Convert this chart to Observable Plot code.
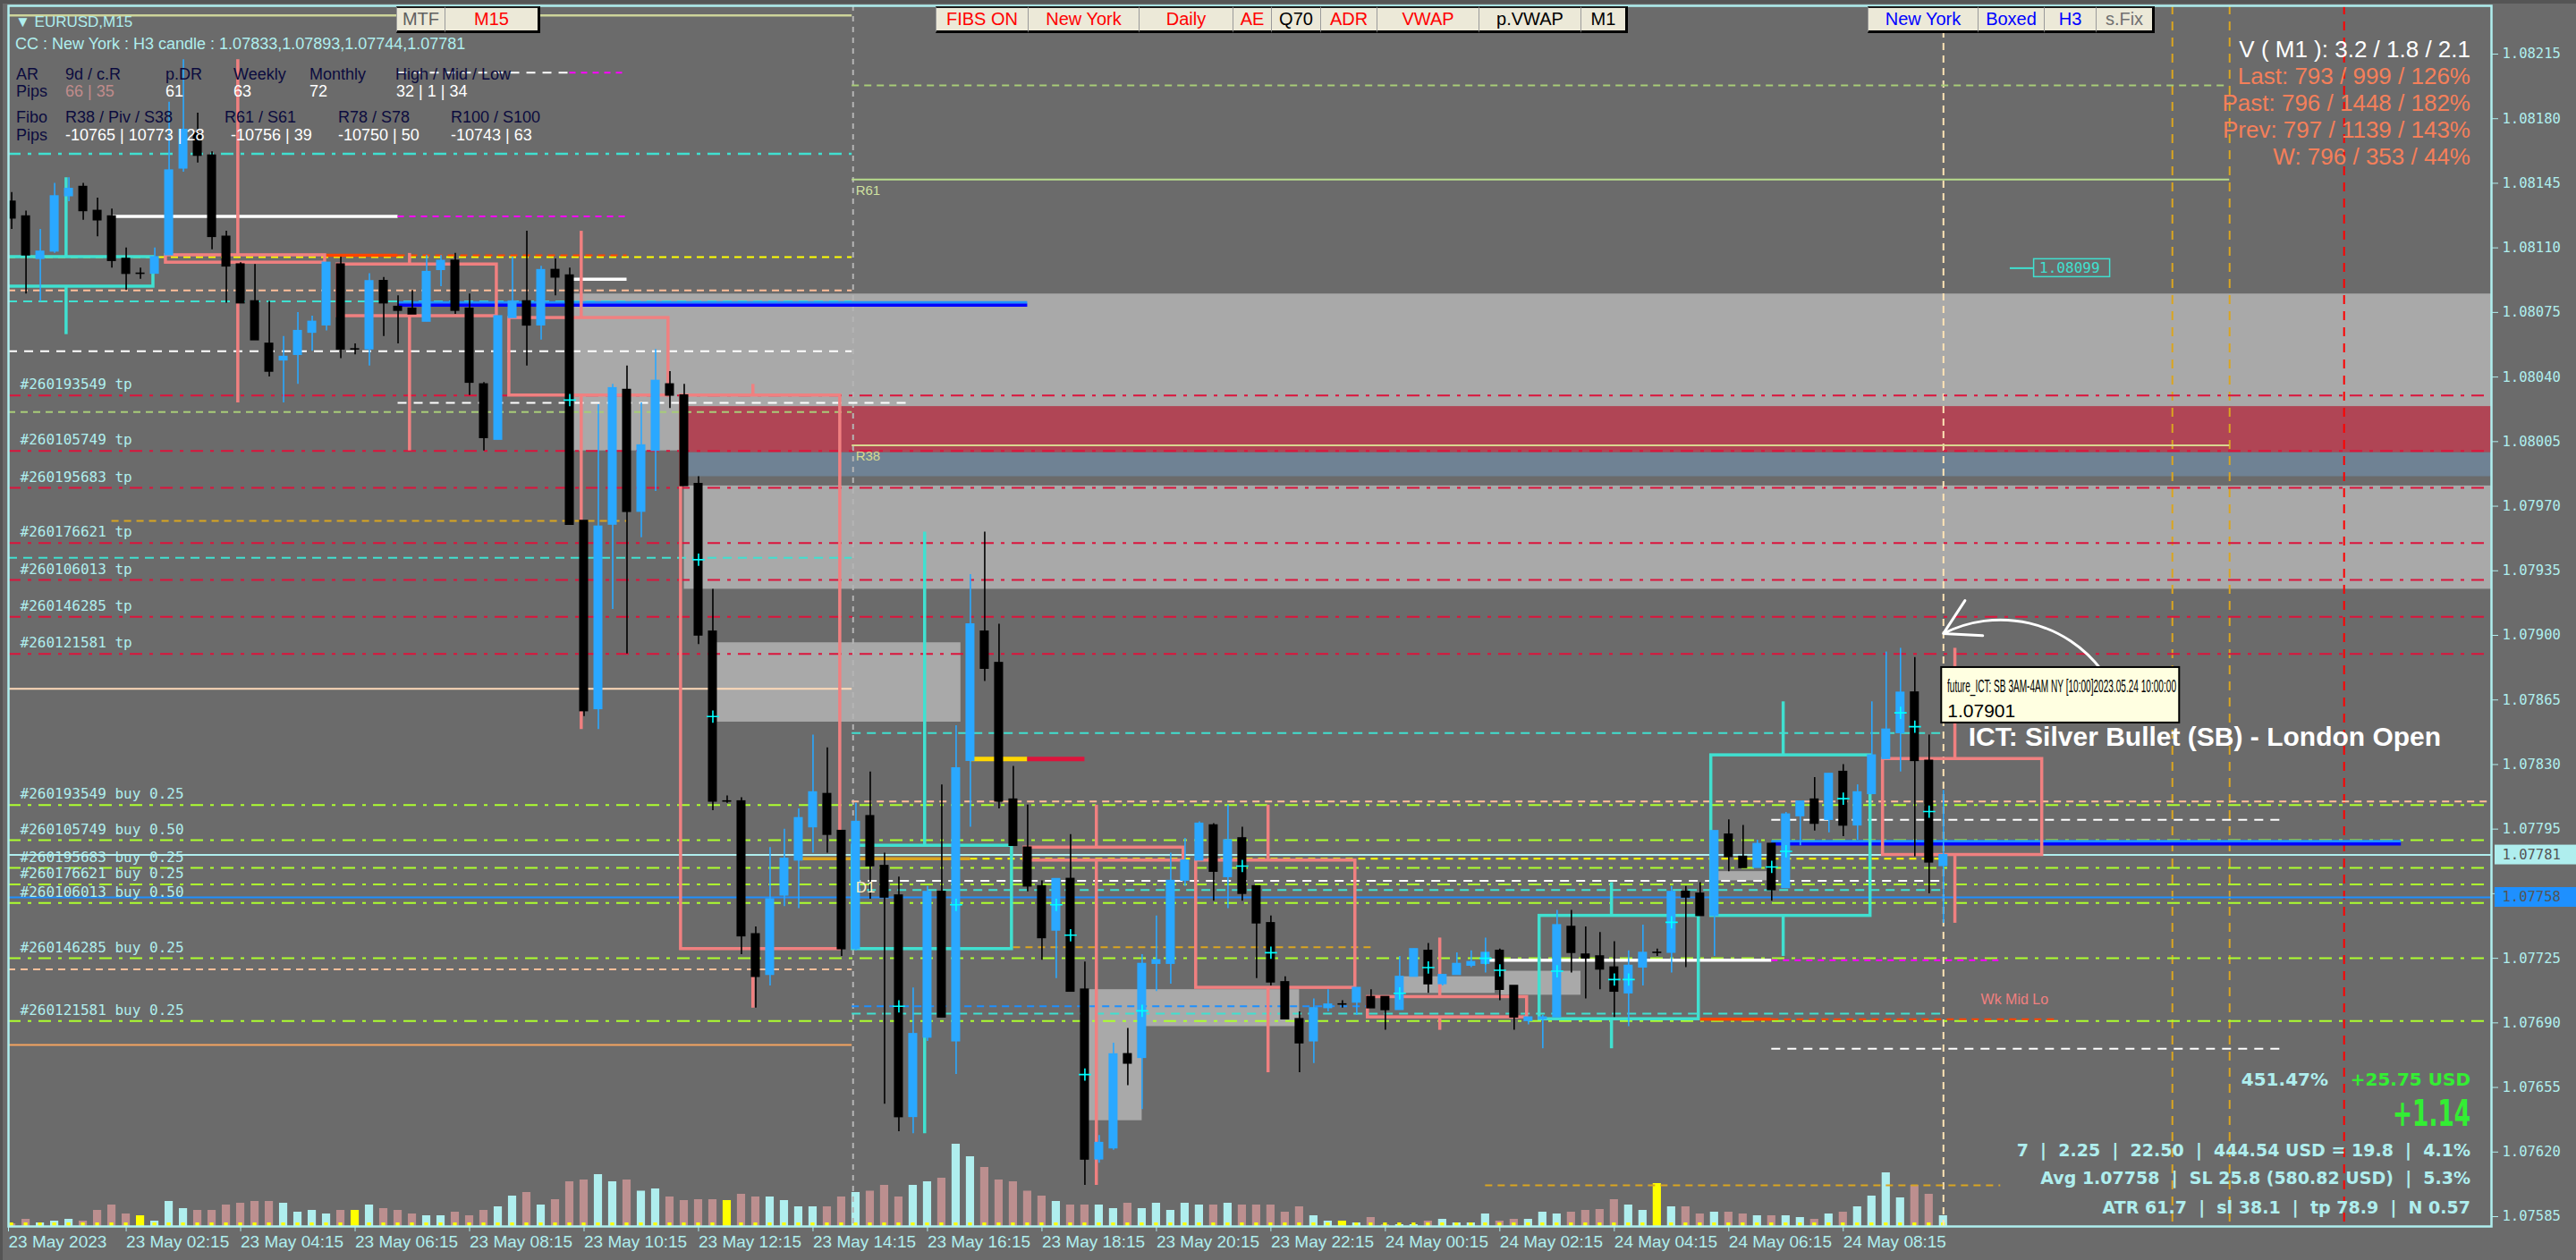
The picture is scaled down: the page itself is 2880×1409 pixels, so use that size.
<!DOCTYPE html>
<html><head><meta charset="utf-8">
<script src="https://cdn.jsdelivr.net/npm/d3@7"></script>
<script src="https://cdn.jsdelivr.net/npm/@observablehq/plot@0.6"></script>
<style>
html,body{margin:0;padding:0;background:#6b6b6b;overflow:hidden;width:2880px;height:1409px}
#wrap{position:relative;width:2880px;height:1409px}
#wrap svg{position:absolute;left:0;top:0}
.ov{position:absolute;white-space:pre;line-height:1}
.edge{position:absolute;background:#555555}
.btn{position:absolute;top:7px;height:30px;box-sizing:border-box;background:#ece9d8;border-left:1px solid #9a9a9a;border-top:2px solid #1a1a1a;border-bottom:3px solid #000;display:flex;align-items:center;justify-content:center;font:20px 'Liberation Sans',sans-serif}
</style></head>
<body><div id="wrap"><div class="edge" style="left:0;top:0;width:2880px;height:4px"></div><div class="edge" style="left:0;top:0;width:3px;height:1409px"></div></div>
<script>
// ---------------- DATA ----------------
const firstBar = "23 00:00";
const opens = [1.08089,1.08135,1.08127,1.08104,1.08108,1.08138,1.08143,1.08130,1.08127,1.08104,1.08096,
1.08096,1.08106,1.08153,1.08172,1.08160,1.08116,1.08101,1.08081,1.08058,1.08049,
1.08052,1.08064,1.08068,1.08101,1.08055,1.08055,1.08092,1.08078,1.08077,1.08070,
1.08098,1.08103,1.08077,1.08036,1.08006,1.08072,1.08081,1.08068,1.08098,1.08095,
1.07962,1.07860,1.07960,1.08033,1.07967,1.08000,1.08036,1.08030,1.07982,1.07902,
1.07810,1.07810,1.07738,1.07716,1.07759,1.07778,1.07796,1.07814,1.07794,1.07730,
1.07802,1.07775,1.07759,1.07639,1.07682,1.07761,1.07680,1.07832,1.07902,1.07885,
1.07811,1.07785,1.07764,1.07740,1.07768,1.07708,1.07616,1.07622,1.07673,1.07671,
1.07722,1.07722,1.07767,1.07778,1.07797,1.07769,1.07790,1.07764,1.07744,1.07712,
1.07692,1.07680,1.07698,1.07700,1.07701,1.07704,1.07704,1.07697,1.07715,1.07729,
1.07711,1.07716,1.07721,1.07722,1.07729,1.07710,1.07691,1.07692,1.07693,1.07742,
1.07727,1.07726,1.07720,1.07706,1.07720,1.07728,1.07728,1.07761,1.07760,1.07748,
1.07792,1.07780,1.07774,1.07787,1.07763,1.07802,1.07811,1.07800,1.07826,1.07797,
1.07814,1.07833,1.07847,1.07869,1.07832,1.07775];
const highs = [1.08140,1.08140,1.08130,1.08120,1.08145,1.08148,1.08145,1.08137,1.08131,1.08110,1.08099,
1.08110,1.08189,1.08212,1.08183,1.08162,1.08119,1.08102,1.08101,1.08081,1.08062,
1.08075,1.08073,1.08102,1.08105,1.08058,1.08096,1.08094,1.08084,1.08087,1.08106,
1.08106,1.08107,1.08085,1.08037,1.08073,1.08105,1.08119,1.08100,1.08104,1.08099,
1.07962,1.08025,1.08036,1.08046,1.08026,1.08055,1.08043,1.08036,1.07986,1.07925,
1.07813,1.07812,1.07742,1.07785,1.07795,1.07806,1.07846,1.07839,1.07794,1.07809,
1.07826,1.07782,1.07769,1.07709,1.07764,1.07819,1.07851,1.07933,1.07956,1.07906,
1.07829,1.07808,1.07767,1.07768,1.07792,1.07723,1.07629,1.07679,1.07687,1.07727,
1.07748,1.07782,1.07790,1.07799,1.07798,1.07808,1.07796,1.07764,1.07748,1.07715,
1.07696,1.07703,1.07708,1.07702,1.07709,1.07708,1.07704,1.07726,1.07730,1.07733,
1.07716,1.07728,1.07729,1.07736,1.07730,1.07710,1.07693,1.07694,1.07751,1.07751,
1.07742,1.07739,1.07734,1.07729,1.07743,1.07730,1.07764,1.07764,1.07766,1.07794,
1.07800,1.07797,1.07789,1.07787,1.07804,1.07810,1.07823,1.07825,1.07830,1.07819,
1.07864,1.07891,1.07893,1.07888,1.07846,1.07816];
const lows = [1.08063,1.08120,1.08085,1.08081,1.08107,1.08135,1.08125,1.08116,1.08099,1.08087,1.08093,
1.08096,1.08106,1.08151,1.08156,1.08109,1.08080,1.08080,1.08060,1.08040,1.08026,
1.08036,1.08054,1.08065,1.08050,1.08052,1.08046,1.08062,1.08058,1.08074,1.08070,
1.08089,1.08074,1.08030,1.08000,1.08006,1.08072,1.08046,1.08060,1.08084,1.07960,
1.07856,1.07849,1.07914,1.07890,1.07953,1.07978,1.08023,1.07981,1.07895,1.07805,
1.07809,1.07727,1.07698,1.07710,1.07753,1.07752,1.07782,1.07782,1.07726,1.07729,
1.07757,1.07646,1.07631,1.07630,1.07680,1.07693,1.07662,1.07796,1.07875,1.07806,
1.07786,1.07761,1.07724,1.07714,1.07707,1.07602,1.07614,1.07621,1.07656,1.07643,
1.07707,1.07711,1.07764,1.07778,1.07756,1.07752,1.07756,1.07714,1.07710,1.07692,
1.07663,1.07668,1.07696,1.07698,1.07694,1.07698,1.07686,1.07697,1.07715,1.07706,
1.07710,1.07716,1.07720,1.07717,1.07702,1.07686,1.07689,1.07676,1.07693,1.07717,
1.07703,1.07708,1.07693,1.07688,1.07710,1.07726,1.07717,1.07720,1.07748,1.07726,
1.07772,1.07774,1.07774,1.07756,1.07763,1.07786,1.07794,1.07793,1.07791,1.07789,
1.07814,1.07833,1.07826,1.07780,1.07760,1.07744];
const closes = [1.08135,1.08126,1.08106,1.08108,1.08138,1.08142,1.08130,1.08125,1.08103,1.08096,1.08096,
1.08105,1.08152,1.08174,1.08160,1.08116,1.08100,1.08080,1.08060,1.08043,1.08051,
1.08065,1.08070,1.08102,1.08055,1.08055,1.08092,1.08080,1.08076,1.08074,1.08097,
1.08103,1.08076,1.08037,1.08007,1.08073,1.08081,1.08068,1.08098,1.08094,1.07960,
1.07859,1.07959,1.08034,1.07967,1.08003,1.08038,1.08030,1.07981,1.07900,1.07810,
1.07810,1.07737,1.07715,1.07757,1.07779,1.07801,1.07815,1.07792,1.07730,1.07799,
1.07775,1.07758,1.07639,1.07684,1.07761,1.07693,1.07828,1.07906,1.07882,1.07810,
1.07786,1.07764,1.07736,1.07768,1.07707,1.07616,1.07625,1.07673,1.07668,1.07722,
1.07724,1.07767,1.07778,1.07798,1.07772,1.07789,1.07760,1.07744,1.07712,1.07692,
1.07679,1.07698,1.07700,1.07700,1.07709,1.07698,1.07697,1.07715,1.07730,1.07711,
1.07716,1.07722,1.07723,1.07728,1.07708,1.07693,1.07693,1.07693,1.07743,1.07728,
1.07725,1.07719,1.07707,1.07721,1.07728,1.07728,1.07761,1.07758,1.07748,1.07794,
1.07780,1.07774,1.07787,1.07762,1.07803,1.07810,1.07798,1.07825,1.07797,1.07815,
1.07835,1.07849,1.07869,1.07832,1.07777,1.07781];
const volumes = [100,30,80,40,60,80,60,180,240,140,120,
60,280,200,180,180,240,260,280,280,260,
160,180,140,180,180,240,200,180,140,120,
120,160,120,180,220,340,380,240,300,500,
520,580,500,520,395,420,330,290,300,300,
290,360,330,330,290,220,220,220,330,380,
395,460,330,460,500,540,920,780,660,520,
500,395,340,280,240,240,240,200,260,200,
260,180,260,240,240,260,240,240,240,160,
220,120,60,60,40,100,20,20,20,60,
80,40,40,140,60,80,80,160,140,160,
180,190,300,240,180,480,220,220,140,160,
160,140,120,120,120,100,80,140,160,220,
340,600,320,460,360,120];
const markedBars = [40,49,50,63,67,74,75,76,80,87,89,98,100,104,105,109,113,114,117,124,125,129,133,134,135];

const priceTicks = [1.08215,1.08180,1.08145,1.08110,1.08075,1.08040,1.08005,1.07970,1.07935,1.07900,1.07865,1.07830,1.07795,1.07760,1.07725,1.07690,1.07655,1.07620,1.07585];
const timeTicks = ["23 02:15","23 04:15","23 06:15","23 08:15","23 10:15","23 12:15","23 14:15","23 16:15","23 18:15","23 20:15","23 22:15","24 00:15","24 02:15","24 04:15","24 06:15","24 08:15"];

const orderIds = ["260193549","260105749","260195683","260176621","260106013","260146285","260121581"];
const tpPrices = [1.08030,1.08000,1.07980,1.07950,1.07930,1.07910,1.07890];
const buyPrices = [1.07808,1.07789,1.07774,1.07765,1.07755,1.07725,1.07691];
const buyLots = [0.25,0.50,0.25,0.25,0.50,0.25,0.25];
const avgPrice = 1.07758, bidPrice = 1.07781;

// level segments: price, from, to
const khakiSolid = [{p:1.08236,from:"start",to:"23 14:56"}];
const whiteSolid = [{p:1.08127,from:"23 02:00",to:"23 07:00"},{p:1.07724,from:"24 02:00",to:"24 07:00"},{p:1.08093,from:"23 10:00",to:"23 11:00"}];
const magentaDashed = [{p:1.08127,from:"23 07:00",to:"23 11:00"},{p:1.07724,from:"24 07:00",to:"24 11:00"},{p:1.08205,from:"23 10:00",to:"23 11:00"}];
const orangeSolid = [{p:1.08106,from:"23 05:45",to:"23 07:00"},{p:1.07692,from:"24 05:45",to:"24 07:00"}];
const orangeDashed = [{p:1.08106,from:"23 07:00",to:"23 11:00"},{p:1.07692,from:"24 07:00",to:"24 12:00"}];
const bisqueSolid = [{p:1.07871,from:"start",to:"23 14:56"}];
const sandySolid = [{p:1.07678,from:"start",to:"23 14:56"}];
const goldSolid = [{p:1.07779,from:"23 14:00",to:"23 17:00"}];
const fibR61 = [{p:1.08147,from:"23 14:56",to:"24 15:00"}];
const fibR38 = [{p:1.08003,from:"23 14:56",to:"24 15:00"}];
const yellowDashed = [{p:1.08105,from:"start",to:"23 14:56"},{p:1.07779,from:"23 17:00",to:"24 10:00"}];
const peachDashed = [{p:1.08087,from:"start",to:"23 14:56"},{p:1.07719,from:"start",to:"23 14:56"},{p:1.07810,from:"23 14:56",to:"end"}];
const turqDashed = [{p:1.08081,from:"start",to:"23 14:56"},{p:1.07942,from:"start",to:"23 14:56"},{p:1.07847,from:"23 14:56",to:"24 10:00"},{p:1.07762,from:"23 14:56",to:"24 10:00"},{p:1.07695,from:"23 14:56",to:"24 10:00"}];
const turqDashDot = [{p:1.08161,from:"start",to:"23 14:56"}];
const whiteDashed = [{p:1.08054,from:"start",to:"23 14:56"},{p:1.08026,from:"23 07:00",to:"23 16:00"},{p:1.07767,from:"23 14:56",to:"24 10:00"},{p:1.07800,from:"24 07:00",to:"24 16:00"},{p:1.07676,from:"24 07:00",to:"24 16:00"},{p:1.08205,from:"23 07:00",to:"23 10:00"}];
const greenDashed = [{p:1.08021,from:"start",to:"23 14:56"},{p:1.08198,from:"23 14:56",to:"24 15:00"}];
const goldDashed = [{p:1.07962,from:"23 02:00",to:"23 11:00"},{p:1.07731,from:"23 17:45",to:"24 00:00"},{p:1.07602,from:"24 02:00",to:"24 11:00"}];
const blueDashed = [{p:1.07699,from:"23 14:56",to:"24 00:00"}];
const blueThick = [{p:1.08079,from:"23 07:00",to:"23 18:00"},{p:1.07787,from:"24 07:00",to:"24 18:00"}];
const yellowThick = [{p:1.07833,from:"23 17:00",to:"23 18:00"}];
const crimsonThick = [{p:1.07833,from:"23 18:00",to:"23 19:00"}];
const level08099 = [{p:1.08099,from:"24 11:10",to:"24 11:35"}];

const sessionLines = ["23 14:57"];
const sbLines = ["24 10:00"];
const goldVLines = ["24 14:00","24 15:00"];
const redVLines = ["24 17:00"];

const grayZones = [{p1:1.08085,p2:1.08000,from:"23 10:00",to:"end"},{p1:1.07981,p2:1.07925,from:"23 12:00",to:"end"},
 {p1:1.07896,p2:1.07853,from:"23 12:30",to:"23 16:50"},{p1:1.07708,p2:1.07637,from:"23 19:00",to:"23 20:00"},
 {p1:1.07708,p2:1.07688,from:"23 20:00",to:"23 22:45"},{p1:1.07715,p2:1.07706,from:"24 00:30",to:"24 02:10"},
 {p1:1.07718,p2:1.07705,from:"24 02:15",to:"24 03:40"},{p1:1.07772,p2:1.07767,from:"24 06:00",to:"24 06:55"}];
const redZones = [{p1:1.08024,p2:1.07999,from:"23 12:00",to:"end"}];
const slateZones = [{p1:1.07999,p2:1.07986,from:"23 12:00",to:"end"}];

const tooltip = {time:"24 10:00", price:1.07901, line1:"future_ICT: SB 3AM-4AM NY [10:00]2023.05.24 10:00:00", line2:"1.07901"};
const ictLabel = {time:"24 10:00", price:1.07845, text:"ICT: Silver Bullet (SB) - London Open"};

// ---------------- HELPERS ----------------
const T = s => { const [d, hm] = s.split(" "); const [h, m] = hm.split(":").map(Number); return new Date(Date.UTC(2023, 4, +d, h, m)); };
const xStart = new Date(Date.UTC(2023,4,23,0,11,38));
const xEnd = new Date(Date.UTC(2023,4,24,19,34,30));
const tt = v => v === "start" ? xStart : v === "end" ? xEnd : T(v);
const MIN = 60000;

const candles = opens.map((o, k) => ({t: new Date(+T(firstBar) + k*15*MIN), i: k, o, h: highs[k], l: lows[k], c: closes[k], v: volumes[k]}));
const up = candles.filter(d => d.c > d.o), down = candles.filter(d => d.c < d.o), doji = candles.filter(d => d.c === d.o);
const h3 = d3.groups(candles, d => Math.floor(d.i / 12)).map(([g, arr]) => ({
  start: new Date(+T("23 00:00") + g*12*15*MIN), o: arr[0].o, c: arr[arr.length-1].c,
  h: d3.max(arr, d => d.h), l: d3.min(arr, d => d.l)}));
const h3Bull = h3.filter(d => d.c >= d.o), h3Bear = h3.filter(d => d.c < d.o);

const seg = (arr, opts) => Plot.ruleY(arr, {y: "p", x1: d => tt(d.from), x2: d => tt(d.to), ...opts});
const zone = (arr, fill) => Plot.rect(arr, {x1: d => tt(d.from), x2: d => tt(d.to), y1: "p1", y2: "p2", fill});
const boxMarks = (arr, color) => [
  Plot.rect(arr, {x1: d => new Date(+d.start - 3.4*MIN), x2: d => new Date(+d.start + 163.5*MIN), y1: "o", y2: "c", stroke: color, strokeWidth: 3.5, fill: "none", clip: true}),
  Plot.ruleX(arr, {x: d => new Date(+d.start + 72*MIN), y1: "h", y2: d => Math.max(d.o, d.c), stroke: color, strokeWidth: 3.5, clip: true}),
  Plot.ruleX(arr, {x: d => new Date(+d.start + 72*MIN), y1: "l", y2: d => Math.min(d.o, d.c), stroke: color, strokeWidth: 3.5, clip: true})
];
const bodyX1 = d => new Date(+d.t - 4.7*MIN), bodyX2 = d => new Date(+d.t + 4.7*MIN);
const UPC = "#2aa8ff", DNC = "#000000", PT = "#afeeee";
const tpData = tpPrices.map((p, k) => ({p, id: orderIds[k]}));
const buyData = buyPrices.map((p, k) => ({p, id: orderIds[k], lot: buyLots[k]}));
const DD = "14,8,4,8";

// ---------------- VOLUME LAYER ----------------
const vx1 = d => new Date(+d.t - 4.3*MIN), vx2 = d => new Date(+d.t + 4.3*MIN);
const vol = Plot.plot({
  width: 2880, height: 1409, marginLeft: 9, marginRight: 95, marginTop: 1271, marginBottom: 38,
  style: {background: "transparent", overflow: "visible"},
  x: {type: "utc", domain: [xStart, xEnd], axis: null},
  y: {domain: [0, 1000], axis: null},
  marks: [
    Plot.rect(up, {x1: vx1, x2: vx2, y1: 0, y2: "v", fill: PT, clip: true}),
    Plot.rect(down, {x1: vx1, x2: vx2, y1: 0, y2: "v", fill: "#bc8f8f", clip: true}),
    Plot.rect(doji, {x1: vx1, x2: vx2, y1: 0, y2: "v", fill: "#ffff00", clip: true}),
    Plot.rect(candles, {x1: d => new Date(+d.t - 2*MIN), x2: d => new Date(+d.t + 2*MIN), y1: 0, y2: 0, insetTop: -4, fill: "#ffff00", clip: true})
  ]
});

// ---------------- MAIN LAYER ----------------
const main = Plot.plot({
  width: 2880, height: 1409, marginLeft: 9, marginRight: 95, marginTop: 6, marginBottom: 38,
  style: {background: "transparent", overflow: "visible", color: PT},
  x: {type: "utc", domain: [xStart, xEnd]},
  y: {domain: [1.0757967, 1.0824117]},
  marks: [
    zone(grayZones, "#a9a9a9"), zone(redZones, "#b04555"), zone(slateZones, "#6f8294"),
    Plot.ruleX(sessionLines, {x: d => T(d), stroke: "#b4b4b4", strokeWidth: 2, strokeDasharray: "6,6"}),
    Plot.ruleX(sbLines, {x: d => T(d), stroke: "#ffe4b5", strokeWidth: 2, strokeDasharray: "8,6"}),
    Plot.ruleX(goldVLines, {x: d => T(d), stroke: "#daa520", strokeWidth: 2, strokeDasharray: "10,8"}),
    Plot.ruleX(redVLines, {x: d => T(d), stroke: "#ff0000", strokeWidth: 2, strokeDasharray: "10,8"}),
    seg(khakiSolid, {stroke: "#cdd49a", strokeWidth: 2.5}),
    seg(bisqueSolid, {stroke: "#ffdab9", strokeWidth: 2}),
    seg(sandySolid, {stroke: "#f4a460", strokeWidth: 2}),
    seg(fibR61, {stroke: "#b8dc8c", strokeWidth: 2}),
    seg(fibR38, {stroke: "#d8d890", strokeWidth: 2}),
    seg(yellowDashed, {stroke: "#ffff00", strokeWidth: 2, strokeDasharray: "8,6"}),
    seg(peachDashed, {stroke: "#ffbf9a", strokeWidth: 2, strokeDasharray: "8,6"}),
    seg(turqDashed, {stroke: "#40e0d0", strokeWidth: 2, strokeDasharray: "10,7"}),
    seg(turqDashDot, {stroke: "#40e0d0", strokeWidth: 2.5, strokeDasharray: DD}),
    seg(whiteDashed, {stroke: "#ffffff", strokeWidth: 2, strokeDasharray: "10,8"}),
    seg(greenDashed, {stroke: "#a8cc78", strokeWidth: 2, strokeDasharray: "8,6"}),
    seg(goldDashed, {stroke: "#daa520", strokeWidth: 2, strokeDasharray: "8,6"}),
    seg(blueDashed, {stroke: "#1e90ff", strokeWidth: 2, strokeDasharray: "8,6"}),
    seg(tpData.map(d => ({...d, from: "start", to: "end"})), {stroke: "#dc143c", strokeWidth: 2, strokeDasharray: DD}),
    seg(buyData.map(d => ({...d, from: "start", to: "end"})), {stroke: "#adff2f", strokeWidth: 2, strokeDasharray: DD}),
    Plot.ruleY([avgPrice], {stroke: "#1e90ff", strokeWidth: 2}),
    Plot.ruleY([bidPrice], {stroke: PT, strokeWidth: 2}),
    seg(whiteSolid, {stroke: "#ffffff", strokeWidth: 3.5}),
    seg(magentaDashed, {stroke: "#ff00ff", strokeWidth: 2, strokeDasharray: "7,6"}),
    seg(orangeSolid, {stroke: "#ff4500", strokeWidth: 3.5}),
    seg(orangeDashed, {stroke: "#ff4500", strokeWidth: 2, strokeDasharray: "8,6"}),
    seg(goldSolid, {stroke: "#daa520", strokeWidth: 3.5}),
    seg(blueThick, {stroke: "#1e90ff", strokeWidth: 3, dy: -3}),
    seg(blueThick, {stroke: "#0000ff", strokeWidth: 3.5}),
    seg(yellowThick, {stroke: "#ffd700", strokeWidth: 5}),
    seg(crimsonThick, {stroke: "#dc143c", strokeWidth: 5}),
    seg(level08099, {stroke: "#40e0d0", strokeWidth: 2}),
    ...boxMarks(h3Bull, "#40e0d0"),
    ...boxMarks(h3Bear, "#f08080"),
    Plot.ruleX(up, {x: "t", y1: "l", y2: "h", stroke: UPC, strokeWidth: 1.6, clip: true}),
    Plot.ruleX(down.concat(doji), {x: "t", y1: "l", y2: "h", stroke: DNC, strokeWidth: 1.6, clip: true}),
    Plot.rect(up, {x1: bodyX1, x2: bodyX2, y1: "o", y2: "c", fill: UPC, insetTop: -0.6, insetBottom: -0.6, clip: true}),
    Plot.rect(down.concat(doji), {x1: bodyX1, x2: bodyX2, y1: "o", y2: "c", fill: DNC, insetTop: -0.8, insetBottom: -0.8, clip: true}),
    Plot.dot(candles.filter(d => markedBars.includes(d.i)), {x: "t", y: d => (d.o + d.c)/2, symbol: "plus", r: 4.5, stroke: "#00ffff", strokeWidth: 1.6}),
    Plot.text(tpData, {x: () => xStart, y: "p", text: d => `#${d.id} tp`, dx: 13, dy: -12, textAnchor: "start", fill: PT, fontFamily: "DejaVu Sans Mono", fontSize: 16}),
    Plot.text(buyData, {x: () => xStart, y: "p", text: d => `#${d.id} buy ${d.lot.toFixed(2)}`, dx: 13, dy: -12, textAnchor: "start", fill: PT, fontFamily: "DejaVu Sans Mono", fontSize: 16}),
    Plot.text(fibR61, {x: d => tt(d.from), y: "p", text: () => "R61", dx: 4, dy: 12, textAnchor: "start", fill: "#cfe0a0", fontFamily: "Liberation Sans", fontSize: 15}),
    Plot.text(fibR38, {x: d => tt(d.from), y: "p", text: () => "R38", dx: 4, dy: 12, textAnchor: "start", fill: "#d8d890", fontFamily: "Liberation Sans", fontSize: 15}),
    Plot.text([{p: 1.07762}], {x: () => T("23 14:56"), y: "p", text: () => "D1", dx: 4, dy: -3, textAnchor: "start", fill: "#fff0c8", fontFamily: "Liberation Sans", fontSize: 17}),
    Plot.text([{p: 1.07692}], {x: () => T("24 11:50"), y: "p", text: () => "Wk Mid Lo", dy: -22, textAnchor: "end", fill: "#f08080", fontFamily: "Liberation Sans", fontSize: 16}),
    Plot.rect(level08099, {x1: d => tt(d.to), x2: d => tt(d.to), y1: "p", y2: "p", insetLeft: 0, insetRight: -85, insetTop: -10, insetBottom: -10, fill: "none", stroke: "#40e0d0", strokeWidth: 1.5}),
    Plot.text(level08099, {x: d => tt(d.to), y: "p", text: d => d.p.toFixed(5), dx: 6, textAnchor: "start", fill: "#40e0d0", fontFamily: "DejaVu Sans Mono", fontSize: 16}),
    Plot.arrow([tooltip], {x1: () => T("24 12:46"), y1: () => 1.07881, x2: d => T(d.time), y2: "price", bend: -40, stroke: "#ffffff", strokeWidth: 3, headLength: 22}),
    Plot.rect([tooltip], {x1: d => T(d.time), x2: d => T(d.time), y1: "price", y2: "price", insetLeft: -2, insetRight: -264, insetTop: 38, insetBottom: -100, fill: "#ffffe1", stroke: "#000", strokeWidth: 2}),
    Plot.text([ictLabel], {x: d => T(d.time), y: "price", text: "text", dx: 28, textAnchor: "start", fill: "#ffffff", fontFamily: "Liberation Sans", fontWeight: "bold", fontSize: 30}),
    Plot.axisY({anchor: "right", ticks: priceTicks, tickFormat: d => d.toFixed(5), tickSize: 7, tickPadding: 5, fontSize: 15.5, fontFamily: "DejaVu Sans Mono", label: null}),
    Plot.axisX({anchor: "bottom", ticks: [xStart, ...timeTicks.map(T)], tickFormat: d => +d === +xStart ? "23 May 2023" : d3.utcFormat("%d %b %H:%M")(d), textAnchor: "start", tickSize: 6, tickPadding: 4, fontSize: 19, fontFamily: "Liberation Sans", label: null}),
    Plot.frame({stroke: PT, strokeWidth: 2.5}),
    Plot.rect([bidPrice], {x1: () => xEnd, x2: () => xEnd, y1: d => d, y2: d => d, insetLeft: 4, insetRight: -95, insetTop: -11, insetBottom: -11, fill: PT}),
    Plot.rect([avgPrice], {x1: () => xEnd, x2: () => xEnd, y1: d => d, y2: d => d, insetLeft: 4, insetRight: -95, insetTop: -11, insetBottom: -11, fill: "#1e90ff"}),
    Plot.text([bidPrice, avgPrice], {x: () => xEnd, y: d => d, text: d => d.toFixed(5), dx: 12, textAnchor: "start", fill: "#555555", fontFamily: "DejaVu Sans Mono", fontSize: 15.5})
  ]
});

const wrap = document.getElementById("wrap");
wrap.append(vol, main);

// ---------------- OVERLAY TEXT & BUTTONS ----------------
function addText(txt, css) { const el = document.createElement("div"); el.className = "ov"; el.textContent = txt; Object.assign(el.style, css); wrap.appendChild(el); return el; }
const F = (px, fam = "'Liberation Sans',sans-serif", w = "normal") => `${w} ${px}px ${fam}`;

// tooltip text placed through the plot's scales
const tx = main.scale("x").apply(T(tooltip.time)), ty = main.scale("y").apply(tooltip.price);
[[tooltip.line1, 47], [tooltip.line2, 75]].forEach(([t, off]) => {
  const el = addText(t, {left: (tx + 5) + "px", top: (ty + off) + "px", font: F(21), color: "#000", transformOrigin: "left top"});
  const w = el.getBoundingClientRect().width;
  if (w > 256) el.style.transform = `scaleX(${256 / w})`;
});

const NAVY = "#0b0b3e";
addText("▼ EURUSD,M15", {left: "17px", top: "15px", font: F(17), color: PT});
addText("CC : New York : H3 candle : 1.07833,1.07893,1.07744,1.07781", {left: "17px", top: "39px", font: F(18), color: PT});
[["AR",18],["9d / c.R",73],["p.DR",185],["Weekly",261],["Monthly",346],["High / Mid / Low",442]].forEach(([t,x]) => addText(t, {left: x+"px", top: "73px", font: F(18), color: NAVY}));
[["Pips",18,NAVY],["66 | 35",73,"#c08c8c"],["61",185,"#fff"],["63",261,"#fff"],["72",346,"#fff"],["32 | 1 | 34",443,"#fff"]].forEach(([t,x,c]) => addText(t, {left: x+"px", top: "92px", font: F(18), color: c}));
[["Fibo",18],["R38 / Piv / S38",73],["R61 / S61",251],["R78 / S78",378],["R100 / S100",504]].forEach(([t,x]) => addText(t, {left: x+"px", top: "121px", font: F(18), color: NAVY}));
[["Pips",18,NAVY],["-10765 | 10773 | 28",73,"#fff"],["-10756 | 39",258,"#fff"],["-10750 | 50",378,"#fff"],["-10743 | 63",504,"#fff"]].forEach(([t,x,c]) => addText(t, {left: x+"px", top: "141px", font: F(18), color: c}));

const buttons = [["MTF",443,497,"#606060"],["M15",497,604,"#ff0000"],["FIBS ON",1046,1149,"#ff0000"],["New York",1149,1273,"#ff0000"],["Daily",1273,1378,"#ff0000"],["AE",1378,1421,"#ff0000"],["Q70",1421,1476,"#000"],["ADR",1476,1539,"#ff0000"],["VWAP",1539,1653,"#ff0000"],["p.VWAP",1653,1767,"#000"],["M1",1767,1820,"#000"],["New York",2088,2211,"#0000ff"],["Boxed",2211,2285,"#0000ff"],["H3",2285,2343,"#0000ff"],["s.Fix",2343,2409,"#707070"]];
buttons.forEach(([t,x1,x2,c], k) => { const b = document.createElement("div"); b.className = "btn"; b.textContent = t; Object.assign(b.style, {left: x1+"px", width: (x2-x1)+"px", color: c}); if ([1,10,14].includes(k)) b.style.borderRight = "3px solid #000"; wrap.appendChild(b); });

const R = 2880 - 2762;
addText("V ( M1 ): 3.2 / 1.8 / 2.1", {right: R+"px", top: "40px", font: F(26), color: "#fff"});
[["Last: 793 / 999 / 126%",70],["Past: 796 / 1448 / 182%",100],["Prev: 797 / 1139 / 143%",130],["W: 796 / 353 / 44%",160]].forEach(([t,y]) => addText(t, {right: R+"px", top: y+"px", font: F(26), color: "#f47f5a"}));

const DJB = F(20, "'DejaVu Sans',sans-serif", "bold");
addText("451.47%", {right: (2880-2603)+"px", top: "1195px", font: DJB, color: PT});
addText("+25.75 USD", {right: R+"px", top: "1195px", font: DJB, color: "#33ee33"});
const big = addText("+1.14", {right: R+"px", top: "1222px", font: F(40, "'DejaVu Sans',sans-serif", "bold"), color: "#33ee33"});
big.style.transform = "scaleX(0.66)"; big.style.transformOrigin = "right center";
const DJB2 = F(19, "'DejaVu Sans',sans-serif", "bold");
addText("7  |  2.25  |  22.50  |  444.54 USD = 19.8  |  4.1%", {right: R+"px", top: "1275px", font: DJB2, color: PT});
addText("Avg 1.07758  |  SL 25.8 (580.82 USD)  |  5.3%", {right: R+"px", top: "1306px", font: DJB2, color: PT});
addText("ATR 61.7  |  sl 38.1  |  tp 78.9  |  N 0.57", {right: R+"px", top: "1339px", font: DJB2, color: PT});
</script></body></html>
